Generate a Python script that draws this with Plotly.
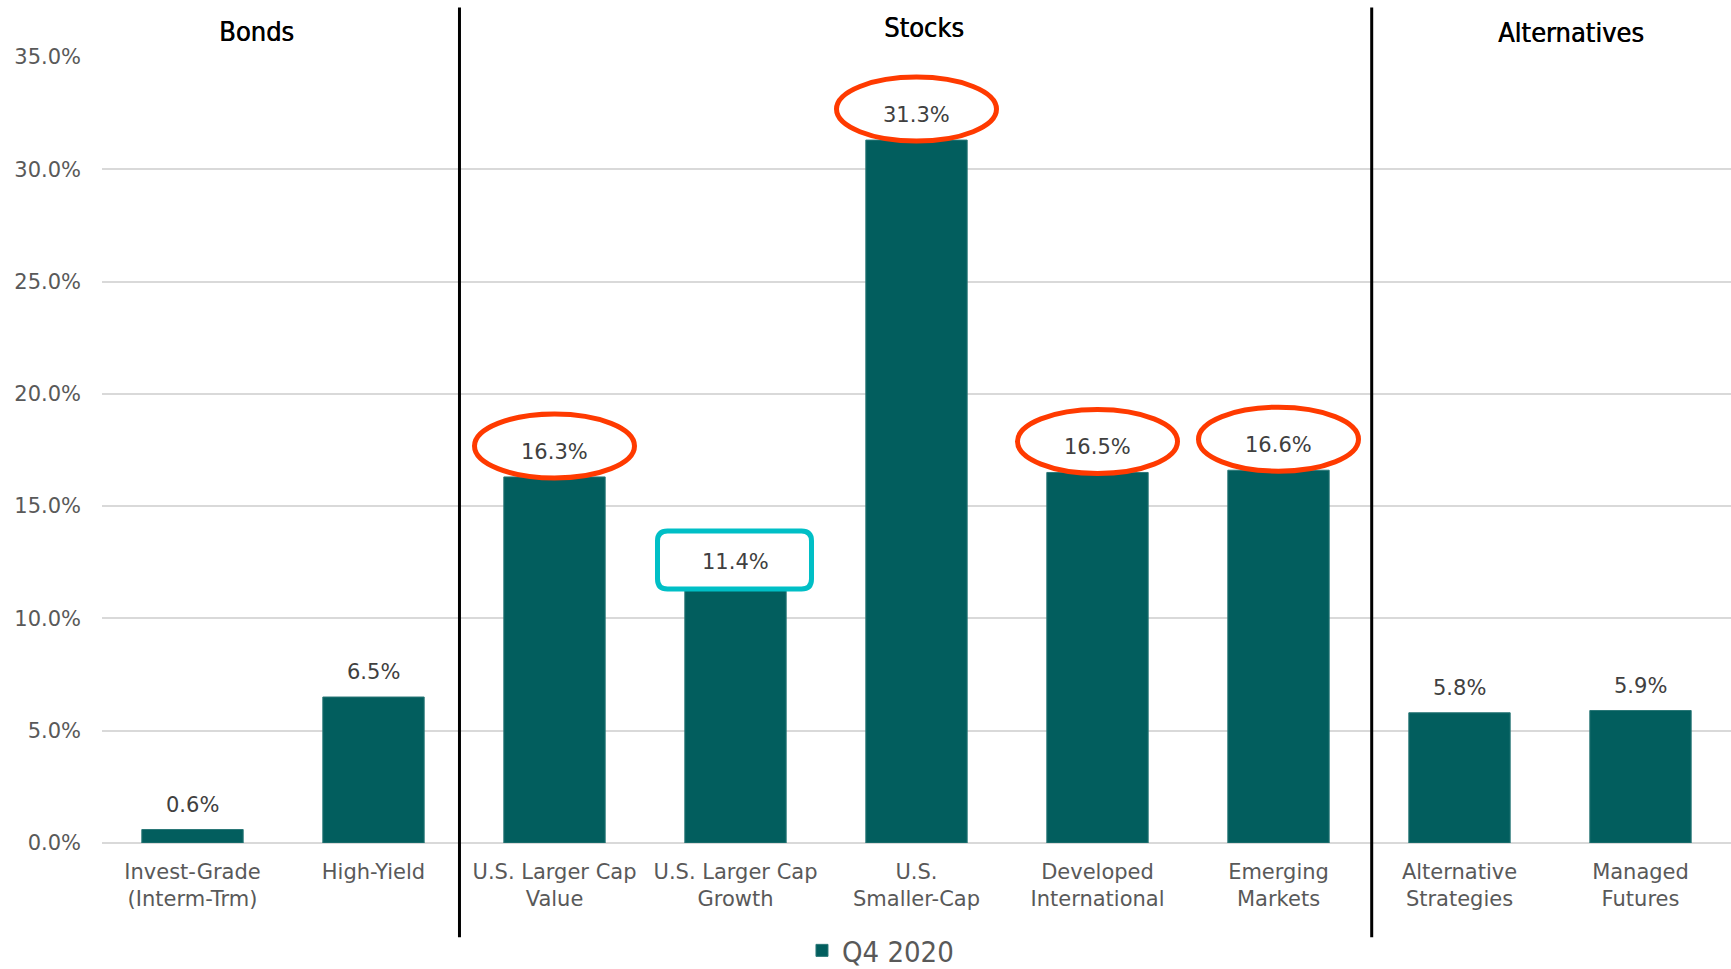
import plotly.graph_objects as go

# Q4 2020 total returns by asset class (percent)
categories = [
    "Invest-Grade<br>(Interm-Trm)",
    "High-Yield",
    "U.S. Larger Cap<br>Value",
    "U.S. Larger Cap<br>Growth",
    "U.S.<br>Smaller-Cap",
    "Developed<br>International",
    "Emerging<br>Markets",
    "Alternative<br>Strategies",
    "Managed<br>Futures",
]
returns_q4_2020 = [0.6, 6.5, 16.3, 11.4, 31.3, 16.5, 16.6, 5.8, 5.9]
series_name = "Q4 2020"

group_names = ["Bonds", "Stocks", "Alternatives"]
highlight_red = [
    "U.S. Larger Cap<br>Value",
    "U.S.<br>Smaller-Cap",
    "Developed<br>International",
    "Emerging<br>Markets",
]
highlight_teal = ["U.S. Larger Cap<br>Growth"]

y_ticks = [0, 5, 10, 15, 20, 25, 30, 35]

BAR_COLOR = "#025E5E"
TEXT_GRAY = "#595959"
LABEL_GRAY = "#404040"
RED = "#FF3A00"
TEAL = "#00BFC6"
TICK_FONT = "DejaVu Sans"
HEAD_FONT = "DejaVu Sans Condensed"

fig = go.Figure()
fig.add_trace(
    go.Bar(
        x=categories,
        y=returns_q4_2020,
        name=series_name,
        marker=dict(color=BAR_COLOR, line=dict(color="#2A7777", width=1)),
        showlegend=True,
    )
)

# value labels above each bar
for cat, val in zip(categories, returns_q4_2020):
    fig.add_annotation(
        x=cat, y=val, xref="x", yref="y",
        text=f"{val:.1f}%", showarrow=False, yshift=25,
        font=dict(family=TICK_FONT, size=21, color=LABEL_GRAY),
    )

shapes = []
# red ellipses around the standout stock returns
for cat in highlight_red:
    val = returns_q4_2020[categories.index(cat)]
    shapes.append(dict(
        type="circle", xref="x", yref="y",
        xsizemode="pixel", ysizemode="pixel",
        xanchor=cat, yanchor=val,
        x0=-80, x1=80, y0=-1, y1=63,
        line=dict(color=RED, width=5),
        fillcolor="rgba(0,0,0,0)", layer="above",
    ))

# teal rounded box around the growth label
r = 10
for cat in highlight_teal:
    val = returns_q4_2020[categories.index(cat)]
    xl, xr, yb, yt = -78, 76, -2, 56
    path = (
        f"M{xl + r},{yb} L{xr - r},{yb} Q{xr},{yb} {xr},{yb + r} "
        f"L{xr},{yt - r} Q{xr},{yt} {xr - r},{yt} "
        f"L{xl + r},{yt} Q{xl},{yt} {xl},{yt - r} "
        f"L{xl},{yb + r} Q{xl},{yb} {xl + r},{yb} Z"
    )
    shapes.append(dict(
        type="path", xref="x", yref="y",
        xsizemode="pixel", ysizemode="pixel",
        xanchor=cat, yanchor=val, path=path,
        line=dict(color=TEAL, width=5),
        fillcolor="white", layer="above",
    ))

# group separators
for xpos in (1.475, 6.515):
    shapes.append(dict(
        type="line", xref="x", yref="paper",
        x0=xpos, x1=xpos, y0=-0.12, y1=1.063,
        line=dict(color="black", width=3), layer="above",
    ))

fig.update_layout(shapes=shapes)

# group headers
for name, xpos, ypos in zip(group_names, (0.353, 4.04, 7.617), (1.0324, 1.038, 1.0311)):
    fig.add_annotation(
        x=xpos, y=ypos, xref="x", yref="paper",
        text=name, showarrow=False,
        font=dict(family=HEAD_FONT, size=27, color="black",
                  shadow="0.5px 0 0 black"),
        xanchor="center", yanchor="middle",
    )

fig.update_layout(
    width=1731, height=969,
    margin=dict(l=102, r=0, t=57, b=126, autoexpand=False),
    paper_bgcolor="white", plot_bgcolor="white",
    bargap=0.44,
    font=dict(family=TICK_FONT, color=TEXT_GRAY),
    legend=dict(
        orientation="h", x=0.4297, y=-0.1368,
        xanchor="left", yanchor="middle",
        font=dict(family=HEAD_FONT, size=29, color=TEXT_GRAY),
        bgcolor="rgba(0,0,0,0)",
    ),
    xaxis=dict(
        type="category",
        range=[-0.5, 8.5],
        showgrid=False, showline=False, zeroline=False,
        ticks="", ticklabelstandoff=14,
        tickfont=dict(family=TICK_FONT, size=21, color=TEXT_GRAY),
    ),
    yaxis=dict(
        range=[0, 35],
        tickvals=y_ticks,
        ticktext=[f"{t:.1f}%" for t in y_ticks],
        showgrid=True, gridcolor="#D9D9D9", gridwidth=2,
        zeroline=True, zerolinecolor="#D9D9D9", zerolinewidth=2,
        showline=False, ticks="",
        ticklabelstandoff=20,
        tickfont=dict(family=TICK_FONT, size=21, color=TEXT_GRAY),
    ),
)

fig.write_html("out.html")
